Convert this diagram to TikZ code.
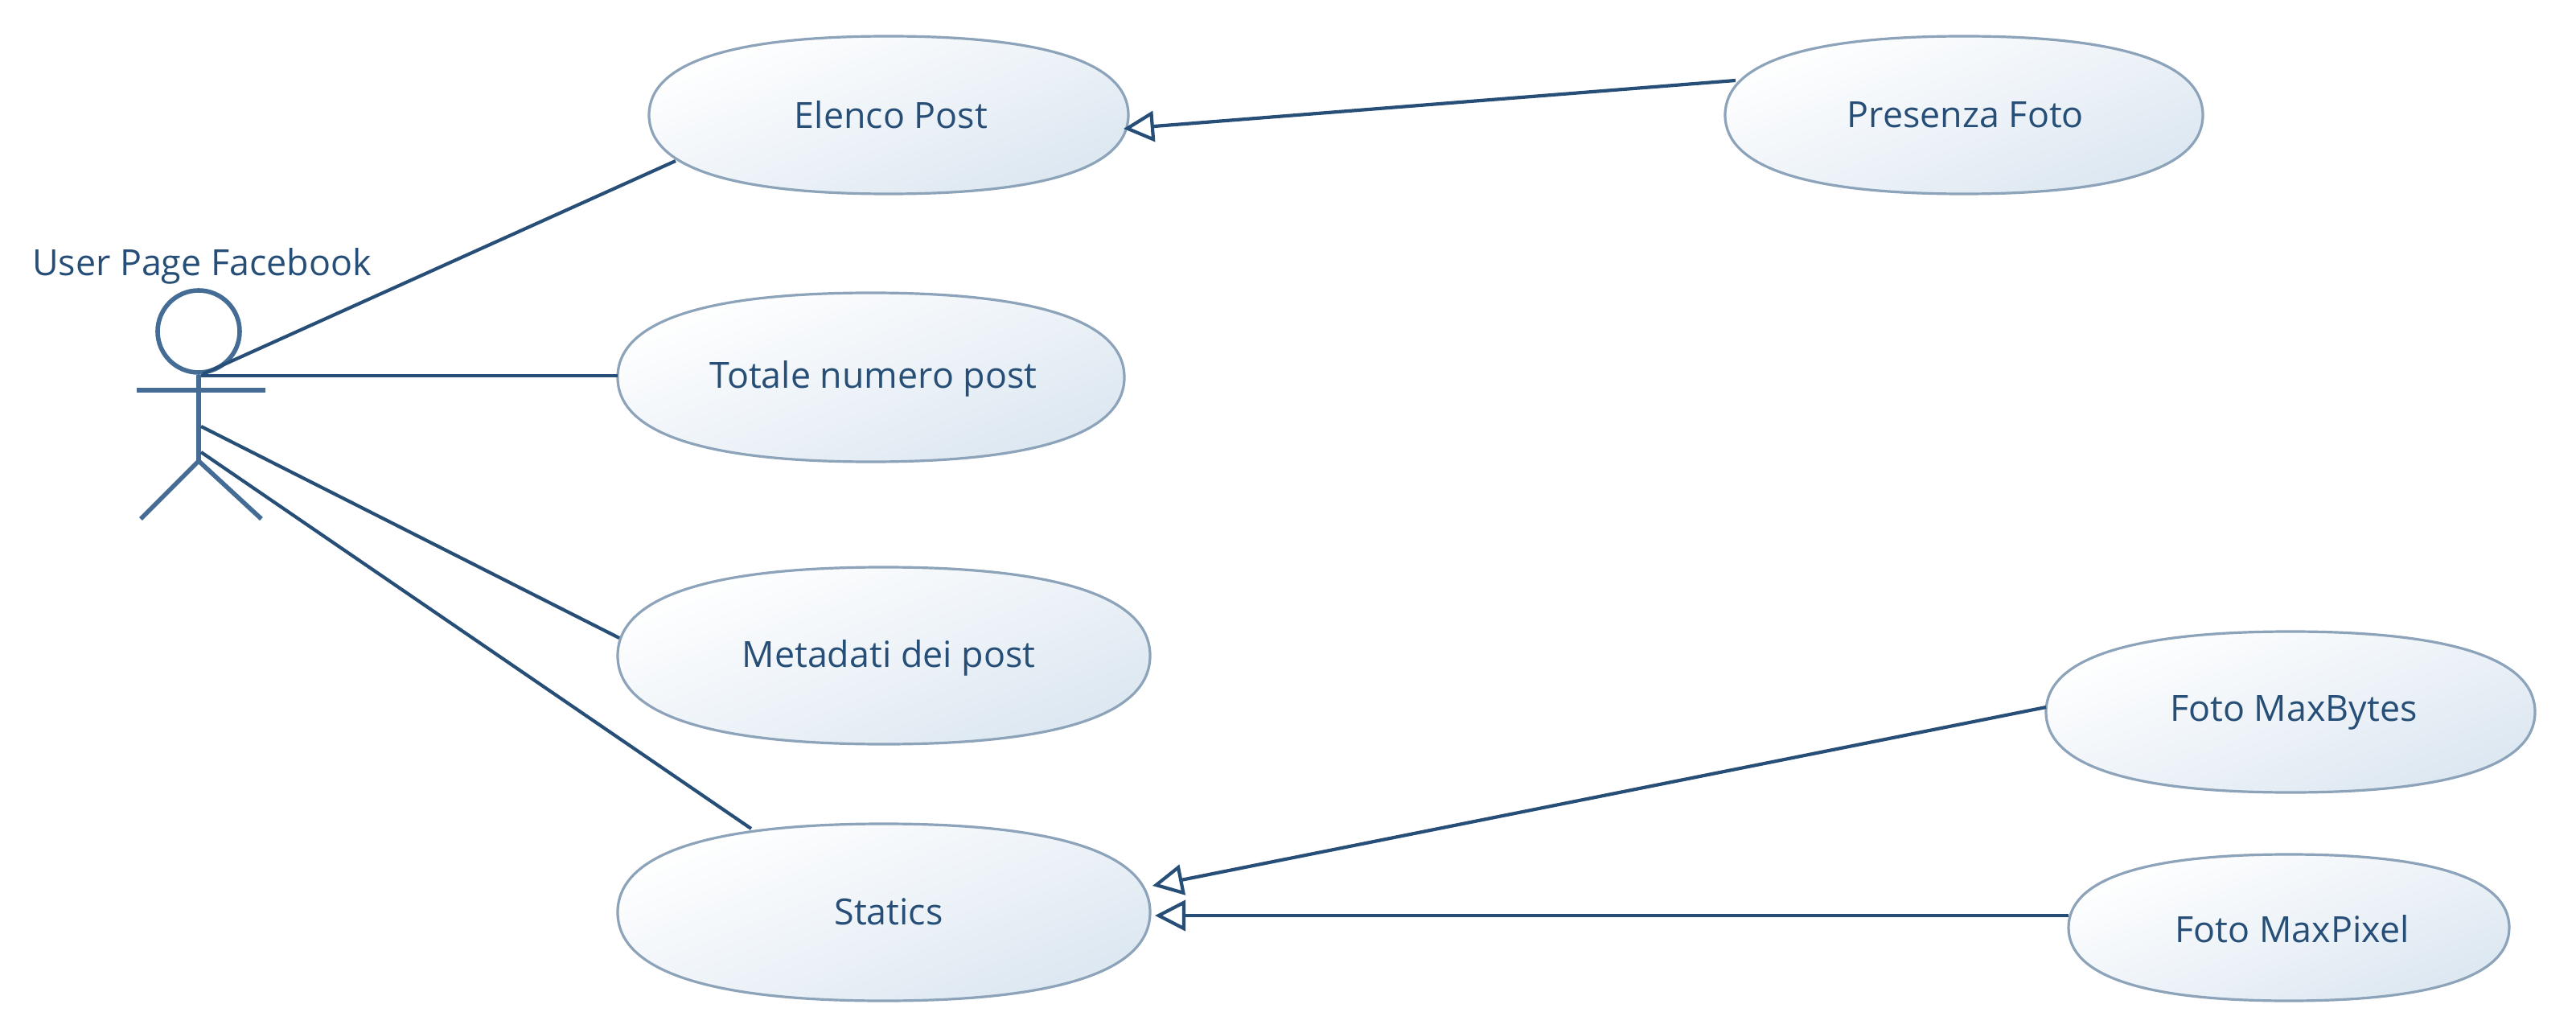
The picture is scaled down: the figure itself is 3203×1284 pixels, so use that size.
\documentclass[tikz,border=0pt]{standalone}
\usepackage{fontspec}
\setmainfont{Open Sans}
\usetikzlibrary{arrows.meta,shapes.geometric}
\definecolor{ink}{HTML}{264E76}
\definecolor{actorc}{HTML}{446C94}
\definecolor{ucedge}{HTML}{8CA3B9}
\definecolor{ucfill}{HTML}{DCE7F1}
\def\kap{0.66}
\newcommand{\ucase}[8]{%
  \begin{scope}[shift={(#2,#3)},x=#4*0.25pt,y=#5*-0.25pt]
    \path[ucshape] (-1,0) .. controls (-1,-\kap) and (-\kap,-1) .. (0,-1)
      .. controls (\kap,-1) and (1,-\kap) .. (1,0)
      .. controls (1,\kap) and (\kap,1) .. (0,1)
      .. controls (-\kap,1) and (-1,\kap) .. (-1,0) -- cycle;
  \end{scope}
  \node[uclabel] (#1) at (#2,#3) {};
  \node[uctext] at (#7,#8) {#6};
}
\tikzset{
  ucshape/.style={draw=ucedge,line width=0.8pt,top color=white,bottom color=ucfill,shading angle=22},
  uclabel/.style={inner sep=0pt,minimum size=0pt},
  uctext/.style={text=ink,font=\fontsize{11.2}{14}\selectfont,inner sep=0pt},
  link/.style={draw=ink,line width=1.05pt},
  gen/.style={link,-{Triangle[open,length=9.5pt,width=9.5pt,line width=1.05pt]}},
  actorline/.style={draw=actorc,line width=1.4pt}
}
\begin{document}
\begin{tikzpicture}[x=0.25pt,y=-0.25pt]
\useasboundingbox (0,0) rectangle (3203,1284);
\ucase{elenco}{1105}{143}{298}{98}{Elenco Post}{1108}{143}
\ucase{presenza}{2442}{143}{297}{98}{Presenza Foto}{2444}{143}
\ucase{totale}{1083}{469}{315}{105}{Totale numero post}{1086}{471}
\ucase{metadati}{1099}{815}{331}{110}{Metadati dei post}{1105}{818}
\ucase{statics}{1099}{1134}{331}{110}{Statics}{1105}{1133}
\ucase{maxbytes}{2848}{885}{304}{100}{Foto MaxBytes}{2852}{886}
\ucase{maxpixel}{2846}{1153}{274}{91}{Foto MaxPixel}{2850}{1155}
% actor
\node[actorline,draw,circle,minimum size=25.5pt,inner sep=0pt] (head) at (247,412) {};
\coordinate (neck) at (247,465);
\coordinate (hip) at (247,573);
\coordinate (lefthand) at (170,485);
\coordinate (righthand) at (330,485);
\coordinate (leftfoot) at (175,645);
\coordinate (rightfoot) at (325,645);
\draw[actorline] (head.south) -- (hip);
\draw[actorline] (lefthand) -- (righthand);
\draw[actorline] (leftfoot) -- (hip) -- (rightfoot);
\node[text=ink,font=\fontsize{11.2}{14}\selectfont,inner sep=0pt] (actorname) at (251,331) {User Page Facebook};
% associations
\draw[link] ([shift={(5,0)}]neck) -- ([shift={(-265,57)}]elenco.center);
\draw[link] ([shift={(3,2)}]neck) -- ([shift={(-315,-2)}]totale.center);
\draw[link] ([shift={(3,-43)}]hip) -- ([shift={(-329,-22)}]metadati.center);
\draw[link] ([shift={(3,-11)}]hip) -- ([shift={(-165,-104)}]statics.center);
% generalisations
\draw[gen] ([shift={(-284,-43)}]presenza.center) -- ([shift={(292,17)}]elenco.center);
\draw[gen] ([shift={(-304,-6)}]maxbytes.center) -- ([shift={(334,-33)}]statics.center);
\draw[gen] ([shift={(-274,-15)}]maxpixel.center) -- ([shift={(337,4)}]statics.center);
\end{tikzpicture}
\end{document}
